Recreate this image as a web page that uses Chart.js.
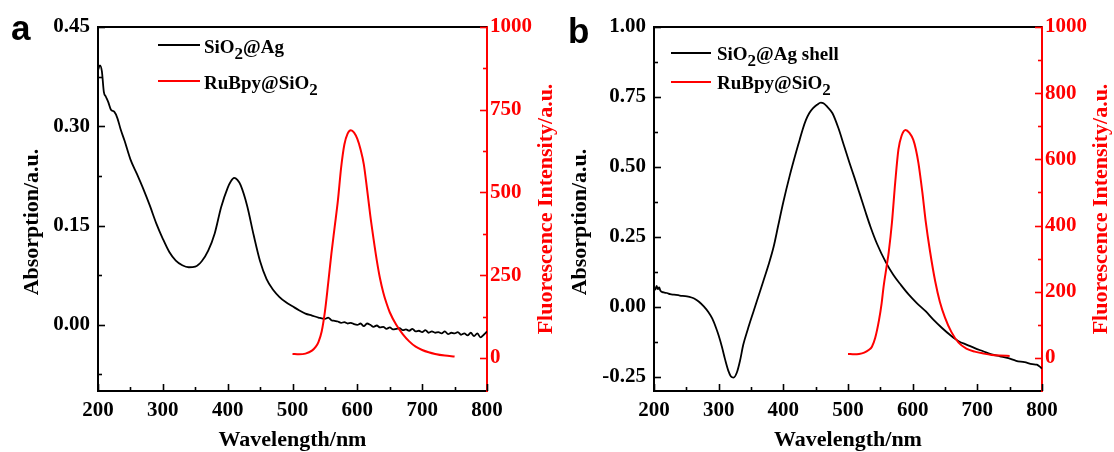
<!DOCTYPE html>
<html><head><meta charset="utf-8">
<script src="https://cdn.jsdelivr.net/npm/chart.js@4.4.1/dist/chart.umd.min.js"></script>
<style>
html,body{margin:0;padding:0;background:#fff;}
#wrap{position:relative;width:1114px;height:452px;overflow:hidden;background:#fff;}
.panel{position:absolute;top:0;width:557px;height:452px;}
</style></head><body>
<div id="wrap">
<div class="panel" style="left:0"><canvas id="ca" width="557" height="452"></canvas></div>
<div class="panel" style="left:557px"><canvas id="cb" width="557" height="452"></canvas></div>
</div>
<script>
// ---------- Panel a data ----------
const wlAbsA = [200,203,206,209,212,216,220,225,230,235,241,250,260,270,280,290,300,310,320,330,340,350,360,370,380,390,400,405,410,415,420,430,440,450,460,470,480,490,500,510,520,530,540,
  550,555,560,565,570,575,580,585,590,595,600,605,610,615,620,625,630,635,640,645,650,655,660,665,670,675,680,685,690,695,700,705,710,715,720,725,730,735,740,745,750,755,760,765,770,775,780,785,790,795,800];
const absA = [0.385,0.392,0.383,0.352,0.345,0.336,0.325,0.322,0.312,0.295,0.278,0.250,0.228,0.205,0.180,0.153,0.130,0.110,0.097,0.090,0.087,0.088,0.096,0.112,0.138,0.178,0.207,0.217,0.222,0.219,0.211,0.180,0.136,0.096,0.069,0.053,0.042,0.034,0.028,0.022,0.017,0.014,0.011,
  0.009,0.011,0.007,0.006,0.005,0.003,0.004,0.002,0.003,0.001,0.000,0.002,-0.002,0.002,0.000,-0.003,-0.001,-0.004,-0.003,-0.006,-0.004,-0.007,-0.006,-0.005,-0.008,-0.007,-0.009,-0.006,-0.010,-0.009,-0.011,-0.008,-0.012,-0.010,-0.012,-0.011,-0.013,-0.010,-0.014,-0.012,-0.013,-0.011,-0.015,-0.013,-0.016,-0.012,-0.017,-0.013,-0.019,-0.015,-0.010];
const wlFluA = [500,510,520,530,536,540,545,550,555,560,565,570,575,580,585,590,595,600,605,610,615,620,625,630,635,640,645,650,660,670,680,690,700,710,720,735,750];
const fluA = [12,11,13,22,34,48,80,140,225,315,395,475,575,645,678,688,681,662,630,585,510,430,360,295,240,198,165,138,100,72,50,34,24,17,12,7,4];

// ---------- Panel b data ----------
const wlAbsB = [200,202,204,206,208,210,215,220,225,231,240,251,258,264,270,277,284,290,296,300,305,310,315,319,323,328,333,338,345,354,361,369,377,385,392,400,410,420,425,430,435,440,446,452,458,462,468,476,485,494,502,510,518,527,535,545,558,570,582,594,606,620,632,645,658,671,684,696,709,722,735,748,760,773,785,792,796,800];
const absB = [0.070,0.062,0.075,0.064,0.070,0.058,0.052,0.050,0.046,0.044,0.041,0.038,0.034,0.028,0.018,0.002,-0.018,-0.041,-0.075,-0.102,-0.142,-0.188,-0.228,-0.248,-0.252,-0.235,-0.192,-0.135,-0.080,-0.015,0.035,0.092,0.150,0.215,0.290,0.375,0.470,0.555,0.595,0.635,0.668,0.692,0.710,0.722,0.730,0.728,0.715,0.692,0.640,0.575,0.517,0.462,0.405,0.340,0.285,0.225,0.162,0.115,0.078,0.044,0.015,-0.015,-0.045,-0.074,-0.100,-0.122,-0.135,-0.147,-0.158,-0.169,-0.176,-0.183,-0.192,-0.197,-0.204,-0.206,-0.212,-0.220];
const wlFluB = [500,510,517,525,532,537,542,548,552,555,560,563,568,573,578,583,589,595,601,605,609,615,620,627,635,642,650,660,671,683,696,710,722,735,750];
const fluB = [12,11,12,16,24,34,60,115,165,215,280,320,410,530,630,672,689,680,659,630,588,500,415,320,230,170,122,78,46,28,19,13,9,7,6];

// ---------- Tick values ----------
const xMajor = [200,300,400,500,600,700,800];
const xMinor = [250,350,450,550,650,750];
const absMajorA = [0,0.15,0.30,0.45];
const absMinorA = [-0.075,0.075,0.225,0.375];
const fluMajorA = [0,250,500,750,1000];
const fluMinorA = [125,375,625,875];
const absMajorB = [-0.25,0,0.25,0.50,0.75,1.00];
const absMinorB = [-0.125,0.125,0.375,0.625,0.875];
const fluMajorB = [0,200,400,600,800,1000];
const fluMinorB = [100,300,500,700,900];

// ---------- Text ----------
const xTitle = 'Wavelength/nm';
const yTitle = 'Absorption/a.u.';
const y1Title = 'Fluorescence Intensity/a.u.';
const legendA = [[['SiO'],['2',true],['@Ag']], [['RuBpy@SiO'],['2',true]]];
const legendB = [[['SiO'],['2',true],['@Ag shell']], [['RuBpy@SiO'],['2',true]]];

const SERIF = "'Liberation Serif','Times New Roman',serif";
const RED = '#ff0000';
const pts = (xs, ys) => xs.map((x, i) => ({x: x, y: ys[i]}));

const framePlugin = {
  id: 'frame',
  afterDraw(chart, args, o) {
    const ctx = chart.ctx, a = chart.chartArea;
    ctx.save();
    ctx.strokeStyle = '#000'; ctx.lineWidth = 2;
    ctx.beginPath(); ctx.moveTo(a.left - 1, a.top); ctx.lineTo(a.right, a.top); ctx.stroke();
    o.ticks.forEach(t => {
      const sc = chart.scales[t.id];
      ctx.strokeStyle = t.color; ctx.lineWidth = 1.6;
      [[t.major, 7], [t.minor, 4]].forEach(([vals, len]) => {
        vals.forEach(v => {
          const p = Math.round(sc.getPixelForValue(v)) + 0.5;
          ctx.beginPath();
          if (t.id === 'x') { ctx.moveTo(p, a.bottom); ctx.lineTo(p, a.bottom - len); }
          else if (t.id === 'y') { ctx.moveTo(a.left, p); ctx.lineTo(a.left + len, p); }
          else { ctx.moveTo(a.right, p); ctx.lineTo(a.right - len, p); }
          ctx.stroke();
        });
      });
    });
    ctx.font = 'bold 22px ' + SERIF;
    ctx.textAlign = 'center'; ctx.textBaseline = 'middle';
    ctx.fillStyle = '#000';
    ctx.fillText(xTitle, (a.left + a.right) / 2, 440);
    ctx.save(); ctx.translate(o.yTitleX, 222); ctx.rotate(-Math.PI / 2);
    ctx.fillText(yTitle, 0, 0); ctx.restore();
    ctx.fillStyle = RED;
    ctx.save(); ctx.translate(o.y1TitleX, 209); ctx.rotate(-Math.PI / 2);
    ctx.fillText(y1Title, 0, 0); ctx.restore();
    ctx.textAlign = 'left'; ctx.textBaseline = 'alphabetic';
    const cols = ['#000', RED];
    o.legend.forEach((parts, i) => {
      const ly = o.legY[i];
      ctx.strokeStyle = cols[i]; ctx.lineWidth = 2;
      ctx.beginPath(); ctx.moveTo(o.legX1, ly); ctx.lineTo(o.legX2, ly); ctx.stroke();
      let x = o.legTX;
      ctx.fillStyle = '#000';
      parts.forEach(([txt, sub]) => {
        ctx.font = 'bold ' + (sub ? 17 : 19) + 'px ' + SERIF;
        ctx.fillText(txt, x, ly + o.legDY + (sub ? 6 : 0));
        x += ctx.measureText(txt).width;
      });
    });
    ctx.fillStyle = '#000';
    ctx.font = "bold 35px 'Liberation Sans', Arial, sans-serif";
    ctx.fillText(o.letter, 11, o.letterY);
    ctx.restore();
  }
};

function makePanel(id, d) {
  const tickFont = {family: SERIF, weight: 'bold', size: 21};
  return new Chart(document.getElementById(id), {
    type: 'line',
    data: {
      datasets: [
        {data: pts(d.wlAbs, d.abs), yAxisID: 'y', borderColor: '#000', borderWidth: 1.8, pointRadius: 0, cubicInterpolationMode: 'monotone', order: 1, fill: false},
        {data: pts(d.wlFlu, d.flu), yAxisID: 'y1', borderColor: RED, borderWidth: 2, pointRadius: 0, cubicInterpolationMode: 'monotone', order: 0, fill: false}
      ]
    },
    options: {
      responsive: false, animation: false, devicePixelRatio: 1,
      layout: {padding: {left: 0, right: 0, top: 27, bottom: 0}},
      plugins: {
        legend: {display: false}, tooltip: {enabled: false},
        frame: {
          ticks: [
            {id: 'x', major: xMajor, minor: xMinor, color: '#000'},
            {id: 'y', major: d.absMajor, minor: d.absMinor, color: '#000'},
            {id: 'y1', major: d.fluMajor, minor: d.fluMinor, color: RED}
          ],
          yTitleX: d.yTitleX, y1TitleX: d.y1TitleX,
          legend: d.legend, legY: d.legY, legX1: d.legX1, legX2: d.legX2, legTX: d.legTX, legDY: d.legDY,
          letter: d.letter, letterY: d.letterY
        }
      },
      scales: {
        x: {
          type: 'linear', min: 200, max: 800,
          afterBuildTicks: s => { s.ticks = xMajor.map(v => ({value: v})); },
          afterFit: s => { s.height = 61; },
          grid: {display: false, drawTicks: false},
          border: {display: true, color: '#000', width: 2},
          ticks: {font: tickFont, color: '#000', padding: 7, maxRotation: 0, autoSkip: false}
        },
        y: {
          type: 'linear', position: 'left', min: d.yMin, max: d.yMax,
          afterBuildTicks: s => { s.ticks = d.absMajor.map(v => ({value: v})); },
          afterFit: s => { s.width = d.yW; },
          grid: {display: false, drawTicks: false},
          border: {display: true, color: '#000', width: 2},
          ticks: {font: tickFont, color: '#000', padding: 8, autoSkip: false, callback: v => v.toFixed(2)}
        },
        y1: {
          type: 'linear', position: 'right', min: -100, max: 1000,
          afterBuildTicks: s => { s.ticks = d.fluMajor.map(v => ({value: v})); },
          afterFit: s => { s.width = d.y1W; },
          grid: {display: false, drawTicks: false},
          border: {display: true, color: RED, width: 2},
          ticks: {font: tickFont, color: RED, padding: 3, autoSkip: false, callback: v => String(v)}
        }
      }
    },
    plugins: [framePlugin]
  });
}

makePanel('ca', {
  wlAbs: wlAbsA, abs: absA, wlFlu: wlFluA, flu: fluA,
  absMajor: absMajorA, absMinor: absMinorA, fluMajor: fluMajorA, fluMinor: fluMinorA,
  yMin: -0.10, yMax: 0.45, yW: 98, y1W: 70,
  yTitleX: 32, y1TitleX: 546,
  legend: legendA, legY: [45, 81], legX1: 158, legX2: 200, legTX: 204, legDY: 8,
  letter: 'a', letterY: 40
});
makePanel('cb', {
  wlAbs: wlAbsB, abs: absB, wlFlu: wlFluB, flu: fluB,
  absMajor: absMajorB, absMinor: absMinorB, fluMajor: fluMajorB, fluMinor: fluMinorB,
  yMin: -0.30, yMax: 1.00, yW: 97, y1W: 72,
  yTitleX: 23, y1TitleX: 544,
  legend: legendB, legY: [53, 82], legX1: 114, legX2: 154, legTX: 160, legDY: 7,
  letter: 'b', letterY: 43
});
</script>
</body></html>
